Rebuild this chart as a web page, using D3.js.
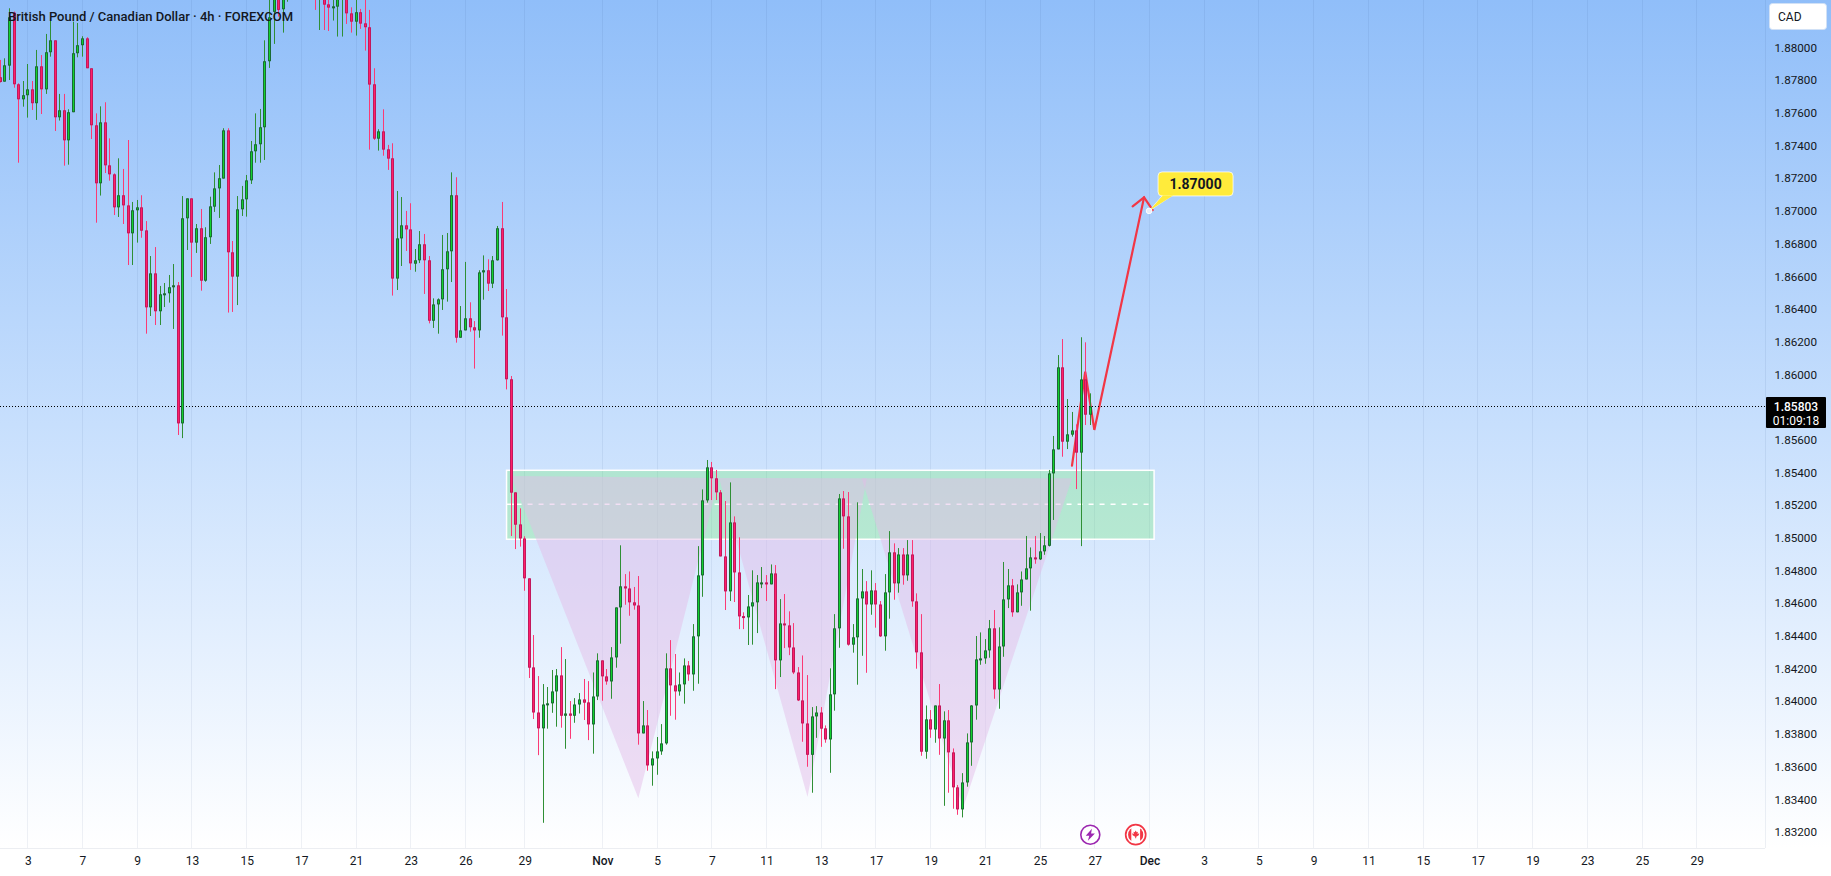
<!DOCTYPE html>
<html>
<head>
<meta charset="utf-8">
<title>GBP/CAD 4h</title>
<script src="https://cdn.jsdelivr.net/npm/d3@7"></script>
<style>
  html, body { margin: 0; padding: 0; background: #fff; overflow: hidden; }
  svg { display: block; }
  text { font-family: Roboto, "Noto Sans", sans-serif; fill: #131722; }
</style>
</head>
<body>
<svg id="chart" width="1831" height="876"></svg>
<script>
const titleText = "British Pound / Canadian Dollar · 4h · FOREXCOM";

// Four-hour bars, oldest first. Bars 63-68 trade above the visible range.
const highs = [
1.87924,1.87934,1.88240,1.88220,1.87781,1.87795,1.87899,1.87795,1.87985,1.87954,
1.88083,1.88179,1.88044,1.87716,1.87716,1.87622,1.88158,1.88150,1.88069,1.88063,
1.87873,1.87597,1.87640,1.87665,1.87444,1.87230,1.87322,1.87257,1.87434,1.87055,
1.87067,1.87096,1.86938,1.86724,1.86779,1.86541,1.86559,1.86608,1.86675,1.86565,
1.87091,1.87077,1.87077,1.86920,1.87012,1.86900,1.87087,1.87236,1.87281,1.87506,
1.87506,1.86816,1.87091,1.87153,1.87220,1.87428,1.87597,1.87624,1.88044,1.88311,
1.88413,1.88373,1.88352,1.88450,1.88460,1.88480,1.88500,1.88490,1.88470,1.88352,
1.88373,1.88332,1.88301,1.88311,1.88332,1.88322,1.88322,1.88246,1.88295,1.88236,
1.88295,1.88230,1.87873,1.87500,1.87622,1.87404,1.87414,1.87122,1.87085,1.87000,
1.87047,1.86767,1.86877,1.86859,1.86724,1.86465,1.86465,1.86853,1.86865,1.87236,
1.87206,1.86418,1.86688,1.86441,1.86326,1.86637,1.86728,1.86704,1.86724,1.86908,
1.87055,1.86522,1.85990,1.85278,1.85180,1.85009,1.84752,1.84405,1.84154,1.84105,
1.84087,1.84191,1.84197,1.84331,1.84258,1.84001,1.84019,1.84050,1.84136,1.84123,
1.84176,1.84293,1.84250,1.84197,1.84331,1.84574,1.84954,1.84778,1.84794,1.84699,
1.84766,1.84001,1.83946,1.83693,1.83781,1.83860,1.84293,1.84374,1.84289,1.84176,
1.84262,1.84246,1.84472,1.84949,1.85296,1.85476,1.85464,1.85415,1.85292,1.85225,
1.85339,1.85131,1.85003,1.84544,1.84650,1.84801,1.84772,1.84821,1.84772,1.84837,
1.84833,1.84625,1.84656,1.84550,1.84478,1.84209,1.84280,1.84160,1.83964,1.83970,
1.83964,1.83852,1.84201,1.84533,1.85268,1.85286,1.85280,1.84472,1.85217,1.84809,
1.84735,1.84801,1.84723,1.84613,1.84778,1.85041,1.84966,1.84937,1.84937,1.84986,
1.84986,1.84660,1.84533,1.83974,1.83946,1.83974,1.84105,1.83938,1.83946,1.83711,
1.83487,1.83560,1.83803,1.83976,1.84399,1.84421,1.84380,1.84497,1.84558,1.84452,
1.84852,1.84809,1.84748,1.84715,1.84794,1.85011,1.84941,1.85011,1.85029,1.85011,
1.85415,1.85623,1.86118,1.86216,1.85849,1.85770,1.85694,1.86227,1.86196,1.85884];

const lows = [
1.87785,1.87791,1.87801,1.87754,1.87295,1.87638,1.87571,1.87618,1.87557,1.87593,
1.87716,1.87944,1.87489,1.87553,1.87277,1.87283,1.87604,1.87940,1.87944,1.87873,
1.87440,1.86928,1.87094,1.87232,1.87185,1.86975,1.86963,1.86920,1.86669,1.86669,
1.86806,1.86836,1.86249,1.86357,1.86302,1.86302,1.86412,1.86439,1.86278,1.85629,
1.85610,1.86761,1.86596,1.86743,1.86512,1.86567,1.86798,1.86994,1.86957,1.87198,
1.86378,1.86382,1.86424,1.86969,1.86965,1.87165,1.87295,1.87295,1.87312,1.87875,
1.88022,1.88189,1.88091,1.88280,1.88300,1.88320,1.88350,1.88340,1.88330,1.88230,
1.88107,1.88107,1.88101,1.88165,1.88067,1.88067,1.88144,1.88091,1.88073,1.88114,
1.87981,1.87375,1.87434,1.87369,1.87338,1.87251,1.86482,1.86516,1.86663,1.86755,
1.86639,1.86628,1.86681,1.86492,1.86312,1.86284,1.86249,1.86394,1.86445,1.86565,
1.86194,1.86224,1.86269,1.86261,1.86035,1.86224,1.86457,1.86510,1.86528,1.86696,
1.86237,1.85908,1.85011,1.84931,1.84946,1.84676,1.84142,1.83891,1.83670,1.83256,
1.83832,1.83929,1.83844,1.83838,1.83709,1.83770,1.83868,1.83925,1.83885,1.83762,
1.83679,1.84007,1.84003,1.84101,1.84015,1.84205,1.84352,1.84590,1.84523,1.84560,
1.83734,1.83803,1.83575,1.83483,1.83550,1.83672,1.83734,1.83911,1.83887,1.84034,
1.83985,1.84125,1.84064,1.84107,1.84639,1.85215,1.85231,1.85231,1.84886,1.84558,
1.84613,1.84607,1.84441,1.84441,1.84344,1.84346,1.84417,1.84692,1.84613,1.84715,
1.84074,1.84148,1.84325,1.84282,1.84166,1.84001,1.83752,1.83599,1.83440,1.83776,
1.83721,1.83746,1.83562,1.83942,1.84327,1.84933,1.84340,1.84297,1.84101,1.84278,
1.84174,1.84529,1.84450,1.84393,1.84309,1.84505,1.84621,1.84664,1.84713,1.84737,
1.84578,1.84199,1.83666,1.83648,1.83776,1.83746,1.83672,1.83360,1.83440,1.83342,
1.83305,1.83289,1.83477,1.83605,1.83887,1.84223,1.84229,1.84266,1.84015,1.83954,
1.84272,1.84570,1.84517,1.84544,1.84584,1.84745,1.84554,1.84841,1.84864,1.84896,
1.84947,1.85109,1.85541,1.85496,1.85543,1.85619,1.85298,1.84949,1.85690,1.85690];

const opens = [
1.87818,1.87791,1.87889,1.88213,1.87775,1.87683,1.87708,1.87744,1.87659,1.87885,
1.87744,1.87971,1.88044,1.87573,1.87616,1.87432,1.87604,1.87965,1.88014,1.88056,
1.87873,1.87524,1.87169,1.87542,1.87279,1.87224,1.87022,1.87096,1.87034,1.86863,
1.87004,1.87022,1.86881,1.86410,1.86618,1.86386,1.86494,1.86496,1.86533,1.86545,
1.85700,1.86955,1.87077,1.86806,1.86894,1.86573,1.86839,1.87026,1.87138,1.87198,
1.87493,1.86747,1.86598,1.87010,1.87071,1.87187,1.87365,1.87408,1.87512,1.87916,
1.88218,1.88332,1.88234,1.88340,1.88410,1.88360,1.88420,1.88460,1.88430,1.88342,
1.88301,1.88311,1.88264,1.88250,1.88250,1.88295,1.88311,1.88209,1.88158,1.88216,
1.88148,1.88124,1.87775,1.87442,1.87487,1.87377,1.87322,1.86586,1.86832,1.86912,
1.86887,1.86677,1.86698,1.86796,1.86698,1.86328,1.86428,1.86459,1.86643,1.86753,
1.87096,1.86224,1.86269,1.86343,1.86288,1.86269,1.86624,1.86637,1.86555,1.86698,
1.86894,1.86349,1.85970,1.85278,1.85082,1.84996,1.84752,1.84207,1.83931,1.83834,
1.83980,1.83987,1.84060,1.84158,1.83911,1.83925,1.83911,1.83980,1.84011,1.83993,
1.83858,1.84029,1.84250,1.84152,1.84121,1.84268,1.84574,1.84703,1.84690,1.84605,
1.84586,1.83803,1.83852,1.83607,1.83650,1.83693,1.83742,1.84201,1.84097,1.84060,
1.84103,1.84219,1.84164,1.84397,1.84770,1.85229,1.85431,1.85364,1.85278,1.84886,
1.84672,1.85094,1.84788,1.84521,1.84513,1.84580,1.84605,1.84725,1.84727,1.84715,
1.84782,1.84250,1.84476,1.84464,1.84329,1.84176,1.84005,1.83864,1.83672,1.83907,
1.83931,1.83834,1.83766,1.84042,1.84446,1.85241,1.85131,1.84346,1.84391,1.84629,
1.84672,1.84592,1.84678,1.84592,1.84397,1.84666,1.84911,1.84721,1.84898,1.84770,
1.84898,1.84611,1.84299,1.83691,1.83889,1.83827,1.83974,1.83772,1.83883,1.83687,
1.83473,1.83338,1.83503,1.83748,1.83974,1.84254,1.84262,1.84311,1.84446,1.84072,
1.84335,1.84623,1.84709,1.84544,1.84666,1.84745,1.84813,1.84880,1.84868,1.84917,
1.84951,1.85394,1.85541,1.86043,1.85588,1.85631,1.85657,1.85521,1.85969,1.85753];

const closes = [
1.87789,1.87891,1.88185,1.87775,1.87683,1.87708,1.87744,1.87659,1.87885,1.87744,
1.87971,1.88044,1.87573,1.87616,1.87432,1.87604,1.87965,1.88014,1.88056,1.87873,
1.87524,1.87169,1.87542,1.87279,1.87224,1.87022,1.87096,1.87034,1.86863,1.87004,
1.87022,1.86879,1.86410,1.86618,1.86386,1.86490,1.86496,1.86533,1.86545,1.85700,
1.86955,1.87077,1.86806,1.86894,1.86573,1.86839,1.87028,1.87138,1.87200,1.87493,
1.86747,1.86598,1.87010,1.87071,1.87187,1.87365,1.87408,1.87512,1.87916,1.88185,
1.88332,1.88230,1.88311,1.88400,1.88360,1.88430,1.88460,1.88400,1.88380,1.88301,
1.88342,1.88262,1.88244,1.88252,1.88301,1.88307,1.88209,1.88158,1.88216,1.88146,
1.88124,1.87773,1.87442,1.87487,1.87375,1.87320,1.86586,1.86832,1.86912,1.86887,
1.86679,1.86698,1.86796,1.86698,1.86328,1.86428,1.86459,1.86643,1.86753,1.87096,
1.86224,1.86269,1.86343,1.86288,1.86269,1.86624,1.86637,1.86555,1.86698,1.86894,
1.86349,1.85970,1.85276,1.85080,1.84996,1.84752,1.84205,1.83931,1.83834,1.83980,
1.83987,1.84060,1.84158,1.83911,1.83925,1.83911,1.83980,1.84011,1.83991,1.83858,
1.84029,1.84250,1.84152,1.84121,1.84268,1.84574,1.84703,1.84690,1.84605,1.84586,
1.83803,1.83852,1.83607,1.83650,1.83693,1.83742,1.84201,1.84097,1.84060,1.84103,
1.84219,1.84164,1.84397,1.84770,1.85229,1.85431,1.85364,1.85278,1.84886,1.84672,
1.85094,1.84788,1.84519,1.84517,1.84580,1.84605,1.84727,1.84727,1.84715,1.84782,
1.84250,1.84476,1.84464,1.84329,1.84176,1.84005,1.83864,1.83672,1.83907,1.83931,
1.83832,1.83766,1.84042,1.84446,1.85241,1.85131,1.84346,1.84391,1.84629,1.84672,
1.84592,1.84678,1.84592,1.84397,1.84666,1.84911,1.84721,1.84898,1.84770,1.84898,
1.84611,1.84299,1.83691,1.83889,1.83827,1.83974,1.83772,1.83883,1.83687,1.83473,
1.83338,1.83503,1.83748,1.83974,1.84256,1.84262,1.84311,1.84446,1.84072,1.84335,
1.84623,1.84709,1.84544,1.84666,1.84745,1.84813,1.84880,1.84868,1.84917,1.84954,
1.85394,1.85541,1.86043,1.85588,1.85633,1.85657,1.85521,1.85969,1.85753,1.85803];

// Time axis: bar index of each tick and its label.
const timeTickBars = [6,18,30,42,54,66,78,90,102,115,132,144,156,168,180,192,204,216,228,240,252,264,276,288,300,312,324,336,348,360,372];
const timeTickLabels = ["3","7","9","13","15","17","21","23","26","29","Nov","5","7","11","13","17","19","21","25","27","Dec","3","5","9","11","15","17","19","23","25","29"];
const monthLabels = ["Nov", "Dec"];

// Price axis labels every 0.002; the one under the last-price tag is left out.
const priceTicks = [1.88,1.878,1.876,1.874,1.872,1.87,1.868,1.866,1.864,1.862,1.86,1.856,1.854,1.852,1.85,1.848,1.846,1.844,1.842,1.84,1.838,1.836,1.834,1.832];

const lastPrice = 1.85803;
const countdown = "01:09:18";
const currency = "CAD";

// Support zone, as bar range and price range.
const zoneBars = [111, 253];
const zonePrices = [1.85413, 1.84991];
const zoneMid = 1.85205;

// Inverse head-and-shoulders triangles: [bar, price] corners.
const leftShoulder = [[112, 1.85378], [139.9, 1.83406], [157.6, 1.85366]];
const head = [[157.6, 1.85366], [177, 1.83414], [190.0, 1.85364]];
const rightShoulder = [[188.9, 1.85364], [211.1, 1.83347], [235, 1.85364]];

// Projected path and its target.
const pathBars = [235, 237.9, 239.9, 250.8];
const pathPrices = [1.85441, 1.86016, 1.8566, 1.87083];
const targetBar = 251.9;
const targetPrice = 1.87;

const width = 1831, height = 876;
const plotRight = 1765, plotBottom = 848;

const x = d3.scaleLinear().domain([0, 239]).range([0.4, 0.4 + 4.56 * 239]);
const y = d3.scaleLinear().domain([1.88, 1.832]).range([47.5, 47.5 + 0.048 * 16343]);
const col = i => Math.floor(x(i)) + 0.5;   // bars and grid lines sit on whole pixels

const svg = d3.select("#chart");
const defs = svg.append("defs");

const grad = defs.append("linearGradient").attr("id", "bg").attr("x1", 0).attr("y1", 0).attr("x2", 0).attr("y2", 1);
grad.append("stop").attr("offset", "0%").attr("stop-color", "#90bef9");
grad.append("stop").attr("offset", "50%").attr("stop-color", "#c7dffd");
grad.append("stop").attr("offset", "100%").attr("stop-color", "#ffffff");

defs.append("clipPath").attr("id", "plot").append("rect")
  .attr("width", plotRight).attr("height", plotBottom);

svg.append("rect").attr("width", width).attr("height", plotBottom).attr("fill", "url(#bg)");

// Vertical grid
const plot = svg.append("g").attr("clip-path", "url(#plot)");
plot.append("g").selectAll("line").data(timeTickBars).join("line")
  .attr("x1", col).attr("x2", col).attr("y1", 0).attr("y2", plotBottom)
  .attr("stroke", "rgba(30,60,110,0.07)");

// Support zone
const zx0 = x(zoneBars[0]), zx1 = x(zoneBars[1]);
plot.append("rect")
  .attr("x", zx0).attr("width", zx1 - zx0)
  .attr("y", y(zonePrices[0])).attr("height", y(zonePrices[1]) - y(zonePrices[0]))
  .attr("fill", "rgba(110,235,110,0.3)")
  .attr("stroke", "#fff").attr("stroke-width", 1.5);
plot.append("line")
  .attr("x1", zx0).attr("x2", zx0 + 15).attr("y1", y(zoneMid)).attr("y2", y(zoneMid))
  .attr("stroke", "#fff").attr("stroke-width", 1.5);
plot.append("line")
  .attr("x1", zx0 + 21).attr("x2", zx1 - 2).attr("y1", y(zoneMid)).attr("y2", y(zoneMid))
  .attr("stroke", "#fff").attr("stroke-width", 1.5).attr("stroke-dasharray", "5 6");

// Pattern triangles
const corners = d3.line().x(d => x(d[0])).y(d => y(d[1]));
plot.append("g").selectAll("path").data([leftShoulder, head, rightShoulder]).join("path")
  .attr("d", d => corners(d) + "Z")
  .attr("fill", "rgba(228,186,232,0.47)");

// Projected path
const pathPts = pathBars.map((b, i) => [b, pathPrices[i]]);
const tip = pathPts[pathPts.length - 1];
const barbL = [tip[0] - 2.5, tip[1] - 0.00055];
const barbR = [tip[0] + 1.9, tip[1] - 0.00078];
const arrow = plot.append("g").attr("fill", "none").attr("stroke", "#f23645").attr("stroke-width", 2.2)
  .attr("stroke-linejoin", "miter").attr("stroke-linecap", "round");
arrow.append("path").attr("d", corners(pathPts));
arrow.append("path").attr("d", corners([barbL, tip, barbR]));

// Last price line
plot.append("line")
  .attr("x1", 0).attr("x2", plotRight).attr("y1", Math.floor(y(lastPrice)) + 0.5).attr("y2", Math.floor(y(lastPrice)) + 0.5)
  .attr("stroke", "#000").attr("stroke-dasharray", "1 2");

// Candles
const bars = d3.range(highs.length).map(i => ({ i, o: opens[i], h: highs[i], l: lows[i], c: closes[i], up: closes[i] >= opens[i] }));
const candles = plot.append("g").selectAll("g").data(bars).join("g");
candles.append("line")
  .attr("x1", d => col(d.i)).attr("x2", d => col(d.i))
  .attr("y1", d => y(d.h)).attr("y2", d => y(d.l))
  .attr("stroke", d => d.up ? "#2f8f35" : "#fb3a75");
candles.append("rect")
  .attr("x", d => col(d.i) - 1.5).attr("width", 3)
  .attr("y", d => y(Math.max(d.o, d.c)) )
  .attr("height", d => Math.max(2, Math.abs(y(d.o) - y(d.c))))
  .attr("fill", d => d.up ? "#1a6b33" : "#c2185b");
candles.append("rect")
  .attr("x", d => col(d.i) - 0.5).attr("width", 1)
  .attr("y", d => y(Math.max(d.o, d.c)) + 1)
  .attr("height", d => Math.max(0, Math.abs(y(d.o) - y(d.c)) - 2))
  .attr("fill", d => d.up ? "#12d22f" : "#ff1f6b");

// Target callout
const tx = x(targetBar), ty = y(targetPrice);
const callout = svg.append("g");
callout.append("path")
  .attr("d", `M${tx},${ty}L${tx + 14},${ty - 16}L${tx + 24},${ty - 16}Z`)
  .attr("fill", "#ffeb3b").attr("stroke", "rgba(255,255,255,0.7)");
callout.append("rect")
  .attr("x", tx + 9).attr("y", ty - 39).attr("width", 75).attr("height", 24).attr("rx", 4)
  .attr("fill", "#ffeb3b").attr("stroke", "rgba(255,255,255,0.75)");
callout.append("path")
  .attr("d", `M${tx + 1},${ty - 1}L${tx + 14},${ty - 15.5}L${tx + 24},${ty - 15.5}Z`)
  .attr("fill", "#ffeb3b");
callout.append("circle").attr("cx", tx).attr("cy", ty).attr("r", 2.8)
  .attr("fill", "#e8eefa").attr("stroke", "#fff");
callout.append("text")
  .attr("x", tx + 46.5).attr("y", ty - 27).attr("dy", "0.36em").attr("text-anchor", "middle")
  .attr("font-size", 14).attr("font-weight", 700)
  .text(targetPrice.toFixed(5));

// Price axis
const yAxisG = svg.append("g").attr("transform", `translate(${plotRight + 0.5},0)`)
  .call(d3.axisRight(y).tickValues(priceTicks).tickFormat(d3.format(".5f")).tickSize(0).tickPadding(9));
yAxisG.select(".domain").remove();
yAxisG.selectAll("text").attr("font-size", 11.7).attr("font-family", null);
svg.append("line").attr("x1", plotRight + 0.5).attr("x2", plotRight + 0.5).attr("y1", 0).attr("y2", plotBottom)
  .attr("stroke", "rgba(30,60,110,0.08)");

// Last price tag
svg.append("rect").attr("x", plotRight + 1).attr("y", 397).attr("width", 60).attr("height", 31).attr("rx", 1).attr("fill", "#000");
svg.append("text").attr("x", 1796).attr("y", 406.5).attr("dy", "0.36em").attr("text-anchor", "middle")
  .attr("font-size", 12).attr("font-weight", 500).style("fill", "#fff").text(lastPrice.toFixed(5));
svg.append("text").attr("x", 1796).attr("y", 421).attr("dy", "0.36em").attr("text-anchor", "middle")
  .attr("font-size", 12).style("fill", "#fff").text(countdown);

// Currency button
svg.append("rect").attr("x", 1769.5).attr("y", 3.5).attr("width", 57).attr("height", 26).attr("rx", 3)
  .attr("fill", "#fff").attr("stroke", "rgba(210,225,245,0.9)");
svg.append("text").attr("x", 1778).attr("y", 17).attr("dy", "0.36em").attr("font-size", 12).text(currency);

// Time axis
svg.append("rect").attr("y", plotBottom).attr("width", width).attr("height", height - plotBottom).attr("fill", "#fff");
svg.append("line").attr("x1", 0).attr("x2", plotRight).attr("y1", plotBottom + 0.5).attr("y2", plotBottom + 0.5).attr("stroke", "#eceef2");
const labelFor = d3.scaleOrdinal(timeTickBars, timeTickLabels);
const xAxisG = svg.append("g").attr("transform", `translate(0,${plotBottom + 8})`)
  .call(d3.axisBottom(x).tickValues(timeTickBars).tickFormat(labelFor).tickSize(0).tickPadding(0));
xAxisG.select(".domain").remove();
xAxisG.selectAll("text").attr("font-size", 12).attr("font-family", null)
  .attr("font-weight", function () { return monthLabels.includes(this.textContent) ? 500 : 400; });

// Event markers
const boltG = svg.append("g").attr("transform", "translate(1090.3,834.7)");
boltG.append("circle").attr("r", 9.5).attr("fill", "#fff").attr("stroke", "#9c27b0").attr("stroke-width", 1.6);
boltG.append("path").attr("d", "M1.6,-6L-4.6,1H-1L-2.4,6L4.6,-1.2H0.8Z").attr("fill", "#9c27b0");

const flagG = svg.append("g").attr("transform", "translate(1135.7,834.7)");
flagG.append("circle").attr("r", 10).attr("fill", "#fff").attr("stroke", "#f23645").attr("stroke-width", 1.7);
flagG.append("clipPath").attr("id", "flagDisc").append("circle").attr("r", 7.6);
const flagBody = flagG.append("g").attr("clip-path", "url(#flagDisc)");
flagBody.append("circle").attr("r", 7.6).attr("fill", "#fff");
flagBody.append("rect").attr("x", -8).attr("y", -8).attr("width", 3.6).attr("height", 16).attr("fill", "#f23645");
flagBody.append("rect").attr("x", 4.4).attr("y", -8).attr("width", 3.6).attr("height", 16).attr("fill", "#f23645");
flagG.append("path").attr("d", "M0,-4.2L1,-2.4L2.2,-3L1.8,-0.6L3.6,-1.4L3,0.6L0.5,2V3.6H-0.5V2L-3,0.6L-3.6,-1.4L-1.8,-0.6L-2.2,-3L-1,-2.4Z").attr("fill", "#f23645");

// Title
svg.append("text").attr("x", 8).attr("y", 16).attr("dy", "0.36em")
  .attr("font-size", 13).attr("font-weight", 500).text(titleText);
</script>
</body>
</html>
